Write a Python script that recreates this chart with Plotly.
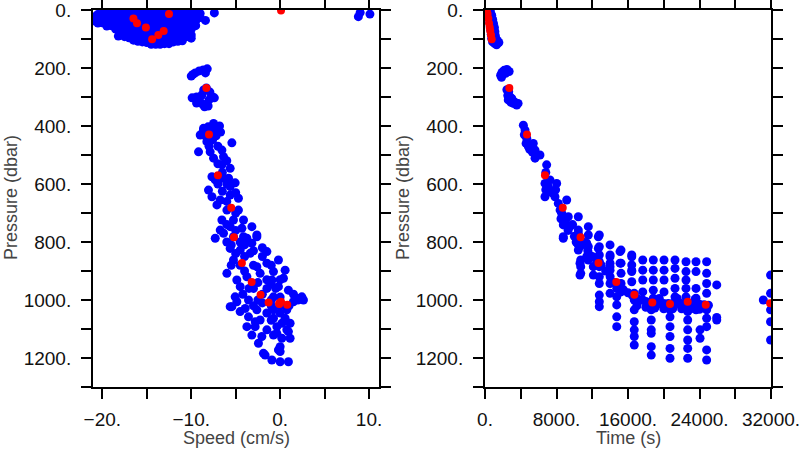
import plotly.graph_objects as go

# ---------------- Left panel: Speed vs Pressure ----------------
# near-surface cluster (speed cm/s, pressure dbar)
left_shallow = [
    (-20.8, 22), (-20.8, 38),
    (-20.5, 15), (-20.5, 32), (-20.5, 45),
    (-20.0, 12), (-20.0, 28), (-20.0, 44),
    (-19.5, 10), (-19.5, 25), (-19.5, 40), (-19.5, 55),
    (-19.0, 8), (-19.0, 22), (-19.0, 38), (-19.0, 54),
    (-18.5, 6), (-18.5, 20), (-18.5, 36), (-18.5, 52), (-18.5, 66),
    (-18.0, 5), (-18.0, 18), (-18.0, 34), (-18.0, 50), (-18.0, 66), (-18.0, 80), (-18.2, 90),
    (-17.5, 4), (-17.5, 18), (-17.5, 34), (-17.5, 50), (-17.5, 66), (-17.5, 82), (-17.5, 92),
    (-17.0, 3), (-17.0, 16), (-17.0, 32), (-17.0, 48), (-17.0, 64), (-17.0, 80), (-17.0, 96),
    (-16.5, 3), (-16.5, 16), (-16.5, 32), (-16.5, 48), (-16.5, 64), (-16.5, 80), (-16.5, 96), (-16.5, 104),
    (-16.0, 2), (-16.0, 15), (-16.0, 30), (-16.0, 46), (-16.0, 62), (-16.0, 78), (-16.0, 94), (-16.0, 108),
    (-15.5, 2), (-15.5, 15), (-15.5, 30), (-15.5, 46), (-15.5, 62), (-15.5, 78), (-15.5, 94), (-15.5, 110),
    (-15.0, 2), (-15.0, 14), (-15.0, 30), (-15.0, 46), (-15.0, 62), (-15.0, 78), (-15.0, 94), (-15.0, 112),
    (-14.5, 2), (-14.5, 14), (-14.5, 30), (-14.5, 46), (-14.5, 62), (-14.5, 78), (-14.5, 94), (-14.5, 110), (-14.5, 118),
    (-14.0, 2), (-14.0, 14), (-14.0, 30), (-14.0, 46), (-14.0, 62), (-14.0, 78), (-14.0, 94), (-14.0, 110), (-14.0, 118),
    (-13.5, 2), (-13.5, 14), (-13.5, 30), (-13.5, 46), (-13.5, 62), (-13.5, 78), (-13.5, 94), (-13.5, 110), (-13.5, 118),
    (-13.0, 2), (-13.0, 14), (-13.0, 30), (-13.0, 46), (-13.0, 62), (-13.0, 78), (-13.0, 94), (-13.0, 110), (-13.0, 116),
    (-12.5, 2), (-12.5, 14), (-12.5, 30), (-12.5, 46), (-12.5, 62), (-12.5, 78), (-12.5, 94), (-12.5, 110), (-12.5, 116),
    (-12.0, 2), (-12.0, 14), (-12.0, 30), (-12.0, 46), (-12.0, 62), (-12.0, 78), (-12.0, 94), (-12.0, 110),
    (-11.5, 2), (-11.5, 14), (-11.5, 30), (-11.5, 46), (-11.5, 62), (-11.5, 78), (-11.5, 94), (-11.5, 108),
    (-11.0, 3), (-11.0, 15), (-11.0, 30), (-11.0, 46), (-11.0, 62), (-11.0, 78), (-11.0, 94), (-11.0, 106),
    (-10.5, 4), (-10.5, 16), (-10.5, 32), (-10.5, 48), (-10.5, 64), (-10.5, 80), (-10.5, 92),
    (-10.0, 5), (-10.0, 18), (-10.0, 34), (-10.0, 50), (-10.0, 66), (-10.0, 86), (-10.0, 97),
    (-9.5, 8), (-9.5, 22), (-9.5, 38), (-9.5, 54),
    (-9.0, 12), (-9.0, 26),
    (-8.4, 36), (-7.4, 10),
    (8.8, 23), (9.0, 9), (10.1, 14),
]

# deeper points (speed cm/s, pressure dbar)
left_deep = [
    (-10.0, 228), (-9.55, 217), (-9.1, 210), (-8.65, 207), (-8.2, 203), (-8.4, 217), (-9.8, 222),
    (-9.9, 303), (-9.4, 300), (-9.0, 317), (-8.5, 334), (-8.1, 331), (-8.8, 293), (-8.3, 269),
    (-7.9, 283), (-7.6, 300), (-7.4, 303), (-8.0, 310), (-9.2, 310), (-8.7, 325), (-8.6, 276), (-9.4, 321),
    (-7.49, 391), (-8.62, 408), (-6.82, 400), (-8.99, 431), (-7.30, 431), (-8.24, 454), (-5.43, 458),
    (-8.65, 417), (-8.1, 403), (-7.5, 407), (-7.0, 403), (-6.7, 421), (-8.3, 438), (-7.6, 448), (-7.2, 434),
    (-9.18, 489), (-7.87, 489), (-6.55, 483), (-7.49, 511), (-6.37, 506), (-6.55, 534), (-5.62, 546),
    (-7.67, 575), (-7.30, 586), (-6.37, 580), (-5.06, 596), (-8.06, 621), (-7.67, 644), (-5.62, 609),
    (-6.74, 655), (-5.62, 638), (-7.11, 672), (-4.69, 649), (-5.99, 690), (-4.69, 690), (-6.55, 724),
    (-5.25, 724), (-4.12, 724), (-6.74, 759), (-5.62, 747), (-4.30, 753), (-3.18, 747), (-7.30, 787),
    (-2.62, 776), (-3.74, 787),
    (-7.0, 470), (-8.0, 470), (-6.0, 520), (-7.0, 530), (-6.5, 560), (-5.8, 580), (-7.0, 600),
    (-6.0, 600), (-6.5, 625), (-5.0, 630), (-6.0, 660), (-5.0, 700), (-6.0, 740), (-5.0, 760),
    (-4.5, 800), (-6.0, 800), (-5.5, 810),
    (-6.37, 770), (-5.25, 782), (-4.12, 782), (-2.62, 782), (-3.18, 804), (-5.62, 822), (-4.49, 828),
    (-3.37, 839), (-1.49, 833), (-0.19, 862), (-1.49, 873), (-2.62, 885), (-5.25, 862), (-5.99, 908),
    (-4.87, 931), (-3.74, 920), (-2.25, 908), (-0.75, 902), (0.56, 897), (-0.93, 931), (0.37, 925),
    (-4.49, 954), (-3.00, 960), (-1.49, 960), (-0.19, 954), (0.93, 966), (-5.06, 989), (-3.56, 1000),
    (-0.75, 989), (1.88, 994), (2.44, 989), (-5.43, 1023), (-3.93, 1029), (-2.62, 1034), (-0.75, 1034),
    (0.75, 1034), (1.49, 1006), (-3.56, 1058), (-2.25, 1069), (-0.75, 1063), (0.56, 1063), (1.12, 1080),
    (-3.74, 1092), (-2.81, 1092), (-1.49, 1103), (-0.37, 1092), (0.75, 1103), (-3.18, 1121), (-2.06, 1126),
    (-0.75, 1121), (0.19, 1132), (1.12, 1132), (-2.44, 1149), (0.00, 1161), (-1.69, 1190), (0.00, 1178),
    (-0.93, 1207), (0.00, 1213), (0.93, 1213),
    (-5.62, 1023), (-4.87, 1006), (2.62, 1000), (-0.37, 1115), (0.93, 1109), (-1.88, 1184), (-0.19, 1172),
    (-4.0, 850), (-2.0, 850), (-1.0, 880), (-3.0, 880), (-4.0, 900), (-1.5, 930), (-2.5, 940),
    (-3.5, 960), (-2.0, 980), (-1.0, 1000), (0.0, 990), (-2.0, 1010), (-1.0, 1020), (0.0, 1020),
    (1.0, 1020), (-3.0, 1020), (-4.5, 1040), (-1.5, 1045), (0.0, 1045), (-2.5, 1000), (-4.2, 980),
    (-0.5, 960), (1.5, 980), (2.0, 1000), (-1.0, 1070), (-2.8, 1075), (0.2, 1080), (-3.0, 830),
    (-2.0, 820), (-4.0, 810), (-5.0, 840), (-5.5, 880), (-4.5, 880), (0.0, 930), (-1.0, 945),
]

# ---------------- Right panel: Time vs Pressure ----------------
right_blue = [
    (300, 3), (600, 5), (450, 15), (750, 18), (500, 28), (850, 32), (550, 42), (950, 46),
    (600, 56), (1050, 60), (650, 70), (1100, 74), (700, 84), (1150, 88), (750, 98), (1250, 100),
    (850, 110), (1400, 106), (1100, 116), (1550, 112), (1300, 120),
    (1750, 225), (1900, 215), (2150, 208), (2450, 205), (2700, 212), (1850, 232), (2300, 218),
    (2450, 275), (2650, 282), (2550, 295), (2800, 300), (2600, 310), (3000, 305), (3200, 315),
    (3400, 320), (3700, 322), (2900, 318),
    (3170, 322), (3550, 328), (4290, 397), (4480, 414), (4670, 442), (4850, 471), (5400, 460),
    (5600, 483), (5600, 511), (6150, 500), (6900, 534), (6710, 598), (6710, 644), (7270, 586),
    (8020, 598), (7830, 644), (8200, 667), (9140, 655), (8580, 701), (8760, 741), (8760, 787),
    (9320, 713), (9510, 747), (10440, 713), (10440, 759), (10630, 816), (10630, 873), (10630, 914),
    (11560, 747), (11380, 804), (11380, 851), (12680, 782), (12680, 822), (13990, 810), (13990, 851),
    (13990, 885), (15110, 833), (15110, 873), (16420, 851), (16420, 897),
    (4400, 430), (4600, 460), (5000, 480), (5300, 490), (6800, 560), (6800, 620), (7100, 610),
    (7500, 630), (7900, 620), (8400, 690), (8500, 720), (9000, 730), (9300, 760), (9800, 740),
    (10000, 780), (10200, 800),
    (11000, 800), (11500, 830), (12000, 850), (12500, 870), (13000, 880), (13500, 900), (14000, 920),
    (14500, 940), (15000, 955), (15500, 965), (16000, 975), (16500, 985), (17000, 995), (17500, 1000),
    (18000, 1005), (18500, 1008), (19000, 1010), (19500, 1012), (20000, 1012), (20500, 1012),
    (21000, 1012), (21500, 1012), (22000, 1012), (22500, 1012), (23000, 1014), (23500, 1015),
    (24000, 1015), (24500, 1016), (25000, 1018),
    (17000, 1020), (18000, 1025), (19000, 1028), (20000, 1030), (21000, 1030), (22000, 1030),
    (23000, 1030), (24000, 1032), (19500, 995), (21500, 995), (23500, 998),
    (8760, 782), (10440, 770), (10440, 810), (10440, 828),
    (10710, 862), (10710, 885), (10710, 908),
    (11560, 776), (11560, 816), (11560, 839), (11560, 862),
    (12120, 885), (12120, 914),
    (12790, 776), (12790, 816), (12790, 845), (12790, 868), (12790, 885), (12790, 920),
    (12790, 943), (12790, 983), (12790, 1006), (12790, 1023),
    (13990, 845), (13990, 873), (13990, 897), (13990, 943), (13990, 977),
    (14740, 960), (14740, 989), (14740, 1017), (14740, 1058), (14740, 1092),
    (15220, 828), (15220, 873), (15220, 908), (15220, 943), (15220, 972),
    (16420, 845), (16420, 879), (16420, 902), (16420, 937),
    (16700, 977), (16700, 1000), (16700, 1034), (16700, 1075), (16700, 1103), (16700, 1126), (16700, 1155),
    (17650, 862), (17650, 897), (17650, 931), (17650, 972), (17650, 1000),
    (18830, 862), (18830, 897), (18830, 931), (18830, 966), (18830, 994),
    (18600, 1034), (18600, 1069), (18600, 1103), (18600, 1115), (18600, 1161), (18600, 1190),
    (20030, 862), (20030, 897), (20030, 931), (20030, 972),
    (20700, 1034), (20700, 1058), (20700, 1092), (20700, 1126), (20700, 1167), (20700, 1201),
    (21260, 862), (21260, 891), (21260, 925), (21260, 960), (21260, 989),
    (22490, 868), (22490, 902), (22490, 931), (22490, 960), (22490, 989),
    (22680, 1040), (22680, 1069), (22680, 1103), (22680, 1138), (22680, 1167), (22680, 1201),
    (23610, 868), (23610, 902), (23610, 960), (23610, 994), (23610, 1034),
    (24060, 1103), (24060, 1132),
    (24800, 868), (24800, 908), (24800, 943), (24800, 977), (24800, 1034), (24800, 1063),
    (24800, 1092), (24800, 1172), (24800, 1207),
    (25930, 948), (25930, 1069), (25930, 1060),
    (31140, 1000),
    (31950, 914), (31950, 977), (31950, 1034), (31950, 1075), (31950, 1138),
]

# ---------------- Highlighted (red) samples, shared by both panels ----------------
red_pres = [2, 14, 29, 46, 60, 72, 86, 101, 269, 429, 570, 682, 784, 872, 938, 982,
            1009, 1014, 1006, 1016, 1011]
red_speed = [0.1, -12.5, -16.5, -16.1, -15.1, -13.1, -13.7, -14.4, -8.3, -8.0, -7.0, -5.5,
             -5.2, -4.3, -3.2, -2.2, -1.3, -0.1, 0.1, 0.8, -0.1]
red_time = [200, 290, 370, 450, 530, 590, 670, 750, 2720, 4700, 6710, 8700, 10690, 12700,
            14690, 16710, 18720, 20700, 22680, 24700, 31900]

# tick labels
p_ticks = [0, 100, 200, 300, 400, 500, 600, 700, 800, 900, 1000, 1100, 1200, 1300]
p_text = ["0.", "", "200.", "", "400.", "", "600.", "", "800.", "", "1000.", "", "1200.", ""]
s_ticks = [-20, -15, -10, -5, 0, 5, 10]
s_text = ["\u221220.", "", "\u221210.", "", "0.", "", "10."]
t_ticks = [0, 4000, 8000, 12000, 16000, 20000, 24000, 28000, 32000]
t_text = ["0.", "", "8000.", "", "16000.", "", "24000.", "", "32000."]

BLUE = "#0000ff"
RED = "#ff0000"
FONT = "Liberation Sans"

left_pts = left_shallow + left_deep
fig = go.Figure()
fig.add_trace(go.Scatter(x=[p[0] for p in left_pts], y=[p[1] for p in left_pts], mode="markers",
                         marker=dict(color=BLUE, size=9, line=dict(width=0)), xaxis="x", yaxis="y"))
fig.add_trace(go.Scatter(x=red_speed, y=red_pres, mode="markers",
                         marker=dict(color=RED, size=8, line=dict(width=0)), xaxis="x", yaxis="y"))
fig.add_trace(go.Scatter(x=[p[0] for p in right_blue], y=[p[1] for p in right_blue], mode="markers",
                         marker=dict(color=BLUE, size=9, line=dict(width=0)), xaxis="x2", yaxis="y2"))
fig.add_trace(go.Scatter(x=red_time, y=red_pres, mode="markers",
                         marker=dict(color=RED, size=8, line=dict(width=0)), xaxis="x2", yaxis="y2"))

W, H = 800, 450
ydom = [1 - 387 / H, 1 - 10 / H]
common = dict(showline=True, linewidth=2, linecolor="black", mirror="ticks", ticks="outside",
              ticklen=10, tickwidth=1.5, tickcolor="black", showgrid=False, zeroline=False,
              automargin=False, ticklabeloverflow="allow",
              tickmode="array", tickfont=dict(family=FONT, size=19, color="#111"))

fig.update_layout(
    width=W, height=H, margin=dict(l=0, r=0, t=0, b=0, pad=0), showlegend=False,
    paper_bgcolor="white", plot_bgcolor="white",
    xaxis=dict(domain=[93 / W, 379 / W], range=[-21.05, 11.12], tickvals=s_ticks, ticktext=s_text,
               anchor="y", ticklabelstandoff=4, **common),
    yaxis=dict(domain=ydom, range=[1300, 0], tickvals=p_ticks, ticktext=p_text, anchor="x",
               ticklabelstandoff=6, **common),
    xaxis2=dict(domain=[485 / W, 771 / W], range=[0, 32000], tickvals=t_ticks, ticktext=t_text,
                anchor="y2", ticklabelstandoff=4, **common),
    yaxis2=dict(domain=ydom, range=[1300, 0], tickvals=p_ticks, ticktext=p_text, anchor="x2",
                ticklabelstandoff=6, **common),
)

title_font = dict(family=FONT, size=18, color="#444")
fig.add_annotation(text="Pressure (dbar)", x=11 / W, y=1 - 198 / H, xref="paper", yref="paper",
                   textangle=-90, showarrow=False, font=title_font, xanchor="center", yanchor="middle")
fig.add_annotation(text="Pressure (dbar)", x=403 / W, y=1 - 198 / H, xref="paper", yref="paper",
                   textangle=-90, showarrow=False, font=title_font, xanchor="center", yanchor="middle")
fig.add_annotation(text="Speed (cm/s)", x=236 / W, y=1 - 438 / H, xref="paper", yref="paper",
                   showarrow=False, font=title_font, xanchor="center", yanchor="middle")
fig.add_annotation(text="Time (s)", x=628 / W, y=1 - 438 / H, xref="paper", yref="paper",
                   showarrow=False, font=title_font, xanchor="center", yanchor="middle")

fig.write_html("out.html", config={"displayModeBar": False},
               post_script="document.body.style.margin='0px';document.body.style.padding='0px';")
